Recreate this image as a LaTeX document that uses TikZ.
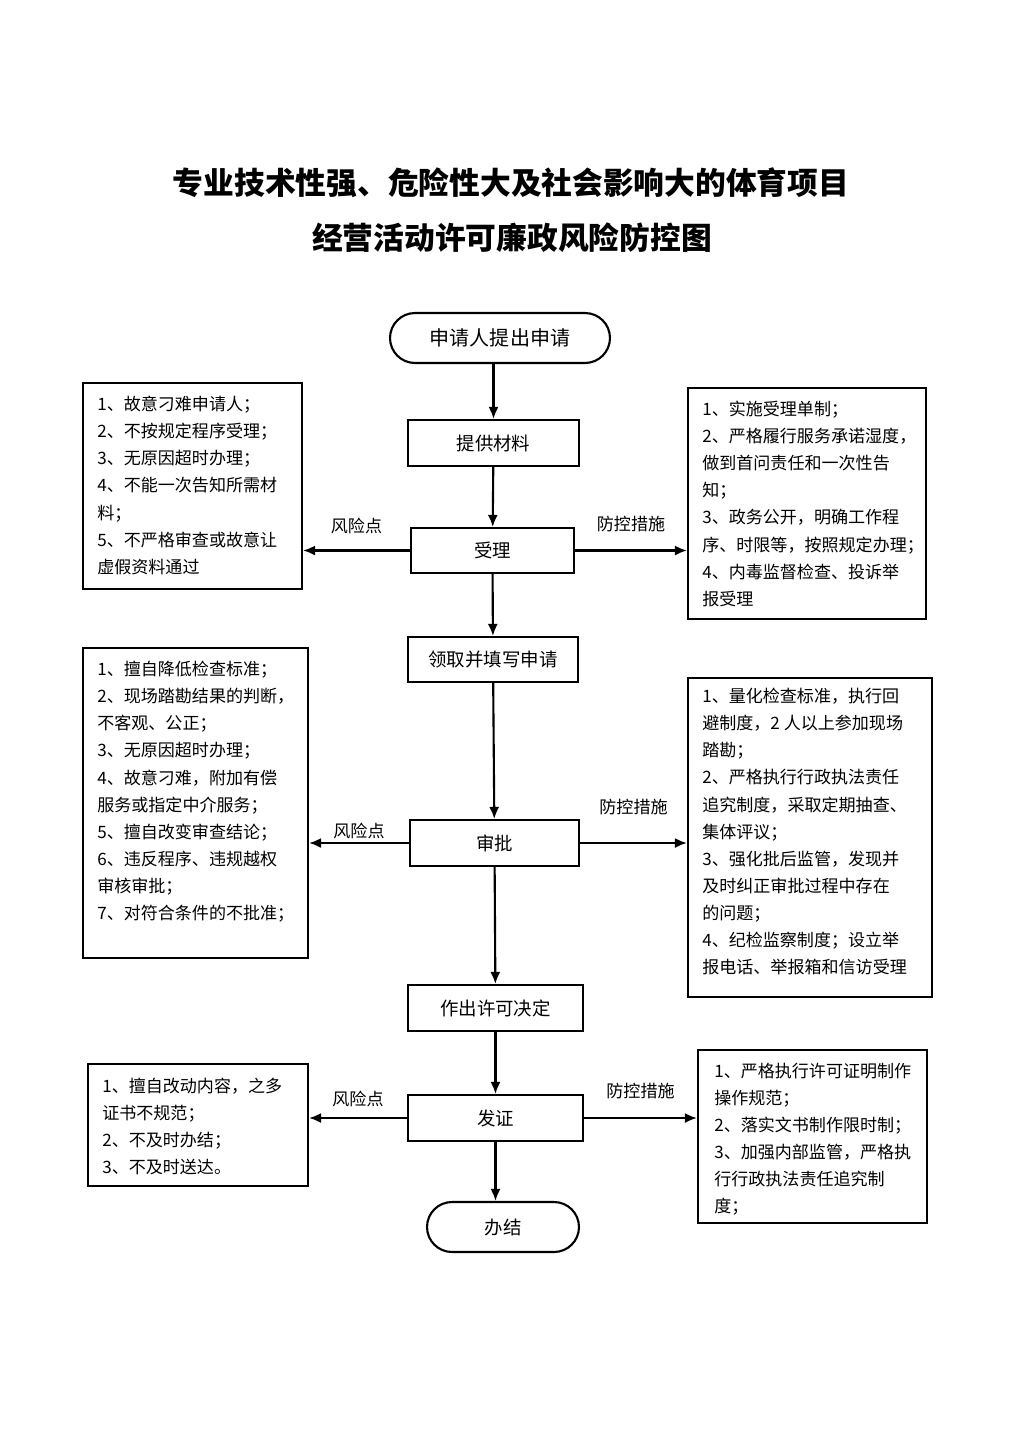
\documentclass[tikz,border=0pt]{standalone}
\usepackage{fontspec}
\setmainfont{Noto Sans CJK SC}
\usetikzlibrary{calc, arrows.meta}

\tikzset{
  titletext/.style={inner sep=0pt, font=\bfseries\fontsize{17.5}{20}\selectfont},
  flowbox/.style={draw, line width=1.2pt, inner sep=0pt, font=\fontsize{10.5}{12}\selectfont},
  endbox/.style={flowbox, rounded corners=0.5cm},
  sidebox/.style={draw, line width=1.2pt, inner sep=0pt},
  sidetext/.style={anchor=north west, align=left, inner sep=0pt, font=\fontsize{9.7}{15.4}\selectfont},
  lbl/.style={inner sep=0pt, font=\fontsize{9.7}{12}\selectfont},
  arr/.style={-{Latex[length=2.4mm,width=2mm]}, line width=1.2pt},
}

\begin{document}
\begin{tikzpicture}[x=0.02cm, y=-0.02cm]
  \path[fill=white] (0,0) rectangle (1024,1448); %画布
  %标题
  \node[titletext] (title1) at (511,183) {专业技术性强、危险性大及社会影响大的体育项目};
  \node[titletext] (title2) at (512,238) {经营活动许可廉政风险防控图};
  %主流程
  \node[endbox, minimum width=4.4cm, minimum height=1cm, font=\fontsize{11.4}{13}\selectfont] (start) at (500,338) {申请人提出申请};
  \node[flowbox, minimum width=3.42cm, minimum height=0.92cm] (tigong) at (493.5,443) {提供材料};
  \node[flowbox, minimum width=3.26cm, minimum height=0.9cm] (shouli) at (492.5,550.5) {受理};
  \node[flowbox, minimum width=3.4cm, minimum height=0.9cm] (lingqu) at (493,659.5) {领取并填写申请};
  \node[flowbox, minimum width=3.38cm, minimum height=0.92cm] (shenpi) at (494.5,843) {审批};
  \node[flowbox, minimum width=3.5cm, minimum height=0.92cm] (zuochu) at (495.5,1008) {作出许可决定};
  \node[flowbox, minimum width=3.5cm, minimum height=0.92cm] (fazheng) at (495.5,1118) {发证};
  \node[endbox, minimum width=3.04cm, minimum height=1cm] (banjie) at (503,1227) {办结};
  %风险点
  \node[sidebox, minimum width=4.38cm, minimum height=4.12cm] (risk1) at (192.5,486) {};
  \node[sidetext] (risk1txt) at ($(risk1.north west)+(15,14)$) {1、故意刁难申请人；\\2、不按规定程序受理；\\3、无原因超时办理；\\4、不能一次告知所需材\\料；\\5、不严格审查或故意让\\虚假资料通过};
  \node[sidebox, minimum width=4.5cm, minimum height=6.2cm] (risk2) at (195.5,803) {};
  \node[sidetext] (risk2txt) at ($(risk2.north west)+(15,14)$) {1、擅自降低检查标准；\\2、现场踏勘结果的判断，\\不客观、公正；\\3、无原因超时办理；\\4、故意刁难，附加有偿\\服务或指定中介服务；\\5、擅自改变审查结论；\\6、违反程序、违规越权\\审核审批；\\7、对符合条件的不批准；};
  \node[sidebox, minimum width=4.4cm, minimum height=2.44cm] (risk3) at (198,1125) {};
  \node[sidetext] (risk3txt) at ($(risk3.north west)+(15,15)$) {1、擅自改动内容，之多\\证书不规范；\\2、不及时办结；\\3、不及时送达。};
  %防控措施
  \node[sidebox, minimum width=4.76cm, minimum height=4.62cm] (ctrl1) at (807,503.5) {};
  \node[sidetext] (ctrl1txt) at ($(ctrl1.north west)+(15,14)$) {1、实施受理单制；\\2、严格履行服务承诺湿度，\\做到首问责任和一次性告\\知；\\3、政务公开，明确工作程\\序、时限等，按照规定办理；\\4、内毒监督检查、投诉举\\报受理};
  \node[sidebox, minimum width=4.88cm, minimum height=6.38cm] (ctrl2) at (810,837.5) {};
  \node[sidetext] (ctrl2txt) at ($(ctrl2.north west)+(15,11)$) {1、量化检查标准，执行回\\避制度，2 人以上参加现场\\踏勘；\\2、严格执行行政执法责任\\追究制度，采取定期抽查、\\集体评议；\\3、强化批后监管，发现并\\及时纠正审批过程中存在\\的问题；\\4、纪检监察制度；设立举\\报电话、举报箱和信访受理};
  \node[sidebox, minimum width=4.58cm, minimum height=3.46cm] (ctrl3) at (812.5,1136.5) {};
  \node[sidetext] (ctrl3txt) at ($(ctrl3.north west)+(17,14)$) {1、严格执行许可证明制作\\操作规范；\\2、落实文书制作限时制；\\3、加强内部监管，严格执\\行行政执法责任追究制\\度；};
  %箭头
  \draw[arr] (tigong.north |- start.south) -- (tigong.north);
  \draw[arr] (tigong) -- (shouli);
  \draw[arr] (shouli) -- (lingqu);
  \draw[arr] (lingqu) -- (shenpi);
  \draw[arr] (shenpi) -- (zuochu);
  \draw[arr] (zuochu) -- (fazheng);
  \draw[arr] (fazheng.south) -- (fazheng.south |- banjie.north);
  \draw[arr] (shouli.west) -- (shouli.west -| risk1.east) node[lbl, midway, above=0.31cm] (shouliR) {风险点};
  \draw[arr] (shouli.east) -- (shouli.east -| ctrl1.west) node[lbl, midway, above=0.35cm] (shouliC) {防控措施};
  \draw[arr] (shenpi.west) -- (shenpi.west -| risk2.east) node[lbl, midway, above=0.07cm] (shenpiR) {风险点};
  \draw[arr] (shenpi.east) -- (shenpi.east -| ctrl2.west) node[lbl, midway, above=0.55cm] (shenpiC) {防控措施};
  \draw[arr] (fazheng.west) -- (fazheng.west -| risk3.east) node[lbl, midway, above=0.21cm] (fazhengR) {风险点};
  \draw[arr] (fazheng.east) -- (fazheng.east -| ctrl3.west) node[lbl, midway, above=0.37cm] (fazhengC) {防控措施};
\end{tikzpicture}
\end{document}
